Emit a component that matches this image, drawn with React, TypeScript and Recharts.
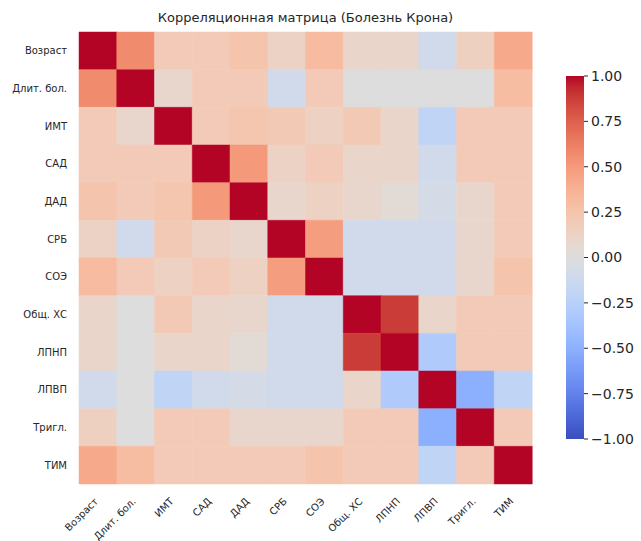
import React from "react";
import { BarChart, Bar, Cell, XAxis, YAxis } from "recharts";

const labels = ["Возраст", "Длит. бол.", "ИМТ", "САД", "ДАД", "СРБ", "СОЭ", "Общ. ХС", "ЛПНП", "ЛПВП", "Тригл.", "ТИМ"];

// correlation rows, same order as labels
const rowAge = [1.0, 0.57, 0.2, 0.2, 0.25, 0.13, 0.31, 0.1, 0.1, -0.1, 0.15, 0.42];
const rowDuration = [0.57, 1.0, 0.09, 0.2, 0.2, -0.1, 0.2, 0.0, 0.0, 0.0, 0.0, 0.3];
const rowBmi = [0.2, 0.09, 1.0, 0.2, 0.24, 0.21, 0.14, 0.21, 0.1, -0.2, 0.2, 0.2];
const rowSbp = [0.2, 0.2, 0.2, 1.0, 0.5, 0.13, 0.2, 0.1, 0.1, -0.1, 0.2, 0.2];
const rowDbp = [0.25, 0.2, 0.24, 0.5, 1.0, 0.09, 0.14, 0.09, 0.04, -0.06, 0.09, 0.2];
const rowCrp = [0.13, -0.1, 0.21, 0.13, 0.09, 1.0, 0.48, -0.1, -0.1, -0.1, 0.09, 0.2];
const rowEsr = [0.31, 0.2, 0.14, 0.2, 0.14, 0.48, 1.0, -0.1, -0.1, -0.1, 0.09, 0.25];
const rowChol = [0.1, 0.0, 0.21, 0.1, 0.09, -0.1, -0.1, 1.0, 0.88, 0.1, 0.2, 0.2];
const rowLdl = [0.1, 0.0, 0.1, 0.1, 0.04, -0.1, -0.1, 0.88, 1.0, -0.3, 0.2, 0.2];
const rowHdl = [-0.1, 0.0, -0.2, -0.1, -0.06, -0.1, -0.1, 0.1, -0.3, 1.0, -0.5, -0.2];
const rowTrig = [0.15, 0.0, 0.2, 0.2, 0.09, 0.09, 0.09, 0.2, 0.2, -0.5, 1.0, 0.2];
const rowImt = [0.42, 0.3, 0.2, 0.2, 0.2, 0.2, 0.25, 0.2, 0.2, -0.2, 0.2, 1.0];

const matrix = [rowAge, rowDuration, rowBmi, rowSbp, rowDbp, rowCrp, rowEsr, rowChol, rowLdl, rowHdl, rowTrig, rowImt];

const colorbarTicks = [-1, -0.75, -0.5, -0.25, 0, 0.25, 0.5, 0.75, 1];

// matplotlib "coolwarm" control points, from -1 to 1
const coolwarm = [
  [59, 76, 192], [68, 90, 204], [77, 104, 215], [87, 117, 225], [98, 130, 234],
  [108, 142, 241], [119, 154, 247], [130, 165, 251], [141, 176, 254], [152, 185, 255],
  [163, 194, 255], [174, 201, 253], [184, 208, 249], [194, 213, 244], [204, 217, 238],
  [213, 219, 230], [221, 221, 221], [229, 216, 209], [236, 211, 197], [241, 204, 185],
  [245, 196, 173], [247, 187, 160], [247, 177, 148], [247, 166, 135], [244, 154, 123],
  [241, 141, 111], [236, 127, 99], [229, 112, 88], [222, 96, 77], [213, 80, 66],
  [203, 62, 56], [192, 40, 47], [180, 4, 38],
];

function colorFor(v: number) {
  const t = Math.min(1, Math.max(0, (v + 1) / 2)) * (coolwarm.length - 1);
  const i = Math.min(coolwarm.length - 2, Math.floor(t));
  const f = t - i;
  const a = coolwarm[i];
  const b = coolwarm[i + 1];
  const c = a.map((x, k) => Math.round(x + (b[k] - x) * f));
  return `rgb(${c[0]},${c[1]},${c[2]})`;
}

const font = "'DejaVu Sans', sans-serif";
const textColor = "#262626";

// one entry per column; every row is a stacked segment of height 1
const columnData = labels.map((name) => {
  const entry: { [key: string]: any } = { name };
  labels.forEach((_, r) => {
    entry[`r${r}`] = 1;
  });
  return entry;
});

const rowTicks = labels.map((_, i) => i + 0.5);

const XTick = (props: any) => {
  const { x, y, payload } = props;
  const ax = x + 1;
  const ay = y + 10;
  return (
    <text
      x={ax}
      y={ay}
      textAnchor="end"
      transform={`rotate(-45, ${ax}, ${ay})`}
      fontSize={10}
      fontFamily={font}
      fill={textColor}
    >
      {payload.value}
    </text>
  );
};

function Heatmap() {
  return (
    <BarChart
      width={540}
      height={541}
      data={columnData}
      margin={{ top: 32, right: 8, bottom: 0, left: 0 }}
      barCategoryGap={0}
      barGap={0}
    >
      <XAxis
        dataKey="name"
        height={57}
        interval={0}
        tickLine={false}
        axisLine={false}
        tick={<XTick />}
      />
      <YAxis
        type="number"
        domain={[0, 12]}
        reversed
        width={79}
        ticks={rowTicks}
        interval={0}
        tickLine={false}
        axisLine={false}
        tickFormatter={(v: number) => labels[Math.floor(v)]}
        tick={{ fontSize: 10, fontFamily: font, fill: textColor }}
        tickMargin={6}
      />
      {labels.map((_, r) => (
        <Bar key={r} dataKey={`r${r}`} stackId="m" isAnimationActive={false}>
          {labels.map((__, c) => (
            <Cell
              key={c}
              fill={colorFor(matrix[r][c])}
              stroke={colorFor(matrix[r][c])}
              strokeWidth={0.5}
            />
          ))}
        </Bar>
      ))}
    </BarChart>
  );
}

const colorbarData = [{ name: "cb", range: [-1, 1] }];

function Colorbar() {
  const stops = coolwarm.map((c, i) => ({
    offset: `${(i / (coolwarm.length - 1)) * 100}%`,
    color: `rgb(${c[0]},${c[1]},${c[2]})`,
  }));
  return (
    <BarChart
      width={75}
      height={379}
      data={colorbarData}
      margin={{ top: 8, right: 0, bottom: 8, left: 0 }}
      barCategoryGap={0}
    >
      <defs>
        <linearGradient id="cbar" x1="0" y1="1" x2="0" y2="0">
          {stops.map((s, i) => (
            <stop key={i} offset={s.offset} stopColor={s.color} />
          ))}
        </linearGradient>
      </defs>
      <XAxis dataKey="name" hide />
      <YAxis
        type="number"
        orientation="right"
        domain={[-1, 1]}
        ticks={colorbarTicks}
        interval={0}
        width={57}
        axisLine={false}
        tickLine={{ stroke: textColor, strokeWidth: 1 }}
        tickSize={4}
        tickMargin={3}
        tickFormatter={(v: number) => v.toFixed(2).replace("-", "\u2212")}
        tick={{ fontSize: 14, fontFamily: font, fill: textColor, textAnchor: "start" }}
      />
      <Bar dataKey="range" fill="url(#cbar)" isAnimationActive={false} />
    </BarChart>
  );
}

export default function App() {
  return (
    <div
      style={{
        position: "absolute",
        left: 0,
        top: 0,
        width: 641,
        height: 541,
        background: "#ffffff",
        fontFamily: font,
      }}
    >
      <div
        style={{
          position: "absolute",
          left: 79,
          top: 10,
          width: 453,
          textAlign: "center",
          fontSize: 13,
          color: textColor,
        }}
      >
        Корреляционная матрица (Болезнь Крона)
      </div>
      <div style={{ position: "absolute", left: 0, top: 0 }}>
        <Heatmap />
      </div>
      <div style={{ position: "absolute", left: 566, top: 68 }}>
        <Colorbar />
      </div>
    </div>
  );
}
